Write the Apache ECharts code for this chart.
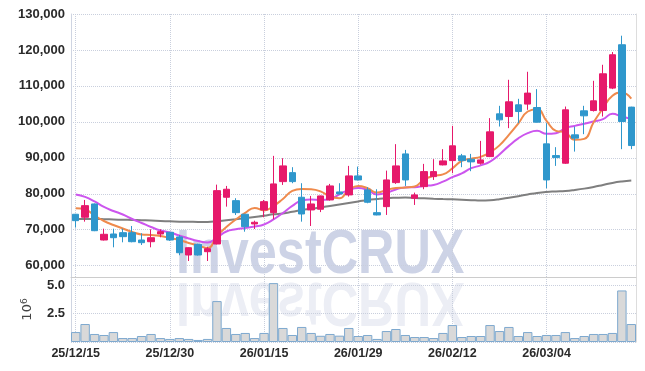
<!DOCTYPE html>
<html><head><meta charset="utf-8">
<script src="https://cdn.jsdelivr.net/npm/echarts@6/dist/echarts.min.js"></script>
<style>html,body{margin:0;padding:0;background:#fff}#c{width:645px;height:371px}</style>
</head><body><div id="c"></div>
<script>
const dates = ['25/12/15','25/12/16','25/12/17','25/12/18','25/12/19','25/12/22','25/12/23','25/12/24','25/12/26','25/12/29',
'25/12/30','26/01/02','26/01/05','26/01/06','26/01/07','26/01/08','26/01/09','26/01/12','26/01/13','26/01/14',
'26/01/15','26/01/16','26/01/19','26/01/20','26/01/21','26/01/22','26/01/23','26/01/26','26/01/27','26/01/28',
'26/01/29','26/01/30','26/02/02','26/02/03','26/02/04','26/02/05','26/02/06','26/02/09','26/02/10','26/02/11',
'26/02/12','26/02/13','26/02/19','26/02/20','26/02/23','26/02/24','26/02/25','26/02/26','26/02/27','26/03/03',
'26/03/04','26/03/05','26/03/06','26/03/09','26/03/10','26/03/11','26/03/12','26/03/13','26/03/16','26/03/17'];

// [open, close, low, high]
const ohlc = [
[74300,72520,70600,74400],[73460,76700,72240,78280],[77170,69730,69600,77300],[67140,68730,67000,70290],[68810,67780,65110,70290],
[69180,68070,66500,70290],[69180,66670,66500,71040],[67140,66390,65750,69010],[66670,67780,65110,70120],[68810,69460,67900,70120],
[69290,67140,66900,69400],[68000,63600,62900,68500],[62970,65000,61300,65100],[65940,62970,62800,66100],[63890,64720,61300,65280],
[66030,80870,65900,82540],[79030,81260,76420,82180],[78090,74750,74100,78760],[74300,70850,69450,74400],[71600,72070,70200,72520],
[75500,77810,73460,78280],[74750,82740,72910,90540],[83380,87750,82460,89900],[85880,83380,82930,87390],[79030,74380,72240,82930],
[75500,77170,71040,79400],[75690,79400,74900,79500],[78280,82180,78090,82740],[80510,79950,79800,82930],[79680,84970,79210,87750],
[84970,83850,83700,87560],[81070,77640,77360,81820],[74750,74110,74000,81260],[76420,83850,74110,86440],[83100,87750,82740,93800],
[91090,83850,82180,92200],[78760,79680,76890,80320],[81990,86160,81260,88310],[84770,86160,83850,89620],[88030,89140,87900,92400],
[89230,93330,85720,98890],[90540,89230,87390,91090],[89620,88870,86280,91090],[88500,89420,88110,94710],[90340,97220,90200,101040],
[102230,100560,98700,104460],[101480,105580,98250,111700],[104740,102870,99640,106410],[104940,108000,103350,113930],[103990,99920,99800,109110],
[93880,83850,81540,99640],[90620,90060,87750,92960],[88500,103350,88300,104260],[96390,95470,91730,98700],[103070,101680,96580,104460],
[103150,105850,102870,111420],[103150,113370,101480,115880],[109390,118670,109110,119420],[121450,100090,92400,123960],[104100,93410,92400,104200]
];

const ma5 = [75970,75640,73970,72430,71320,70350,69370,68680,68540,68260,
67700,67140,66310,65610,64920,68260,70760,72850,74660,76050,
75360,76610,78560,80790,81350,81260,80650,79260,78760,81070,
82180,81540,80320,81070,81620,81760,82040,83990,84970,85390,
87060,89140,89760,90260,91510,93460,96390,99530,102880,103540,
100280,97500,97080,94990,95270,99870,103820,107250,108170,106470];

const ma20 = [79820,79120,77870,76330,75220,74240,72990,71880,70760,69790,
69230,68400,67560,66860,66450,67840,69510,70120,70490,70900,
71460,72850,74660,76610,78140,78420,78280,78560,79820,81070,
81620,81070,79820,80230,81210,81760,81820,82180,82460,83380,
84610,85660,87110,87890,88950,90950,93320,95410,96860,97500,
96660,96860,98250,98890,99450,100090,100760,102230,101480,100840];

const ma60 = [72990,72990,72990,72940,72850,72770,72710,72630,72550,72430,
72350,72240,72210,72160,72160,72350,72660,72940,73210,73550,
73880,74300,74520,74990,75500,75830,76190,76610,77030,77450,
77860,78280,78560,78780,78890,78950,78840,78730,78620,78530,
78450,78340,78230,78120,78200,78480,78900,79340,79790,80230,
80510,80650,80790,81070,81430,81900,82460,83020,83430,83710];

// volume in millions
const volume = [0.88,1.59,0.71,0.62,0.88,0.35,0.35,0.53,0.71,0.35,
0.27,0.35,0.27,0.18,0.27,3.62,1.24,0.71,0.80,0.35,
0.80,5.21,1.24,0.62,1.33,0.80,0.55,0.71,0.56,1.24,
0.53,0.62,0.27,0.97,1.15,0.62,0.44,0.44,0.35,0.80,
1.50,0.44,0.53,0.53,1.50,0.97,1.33,0.53,0.88,0.53,
0.62,0.62,0.88,0.35,0.53,0.71,0.71,0.80,4.56,1.59];

const priceMin = 56850, priceMax = 130000;
const volMax = 5.75, volTicks = 2.5;

const UP = '#e6196b', DOWN = '#2f97cc';
const FONT = '"Liberation Sans", Arial, sans-serif';
const gridLine = {show:true, lineStyle:{color:'#c9cfdd', type:'dotted', width:1}};
const lbl = {color:'#2a2a2a', fontFamily:FONT, fontSize:13, fontWeight:'bold'};

const chart = echarts.init(document.getElementById('c'), null, {renderer:'canvas'});
chart.setOption({
  animation:false,
  backgroundColor:'#fff',
  grid:[
    {left:71, right:9, top:14, height:263},
    {left:71, right:9, top:277, height:65}
  ],
  xAxis:[
    {type:'category', gridIndex:0, data:dates, boundaryGap:true,
     axisLine:{show:true, lineStyle:{color:'#cccccc'}}, axisTick:{show:false}, axisLabel:{show:false},
     splitLine:Object.assign({interval:9, alignWithLabel:true}, gridLine)},
    {type:'category', gridIndex:1, data:dates, boundaryGap:true,
     axisLine:{show:false}, axisTick:{show:false},
     axisLabel:Object.assign({interval:9, margin:5}, lbl, {fontSize:12.5}),
     splitLine:Object.assign({interval:9, alignWithLabel:true}, gridLine)}
  ],
  yAxis:[
    {type:'value', gridIndex:0, min:priceMin, max:priceMax, splitNumber:7, position:'left',
     axisLine:{show:true, lineStyle:{color:'#cfd5e2'}}, axisTick:{show:false},
     axisLabel:Object.assign({showMinLabel:false, margin:6}, lbl),
     splitLine:gridLine},
    {type:'value', gridIndex:0, min:priceMin, max:priceMax, position:'right',
     axisLine:{show:true, lineStyle:{color:'#dddddd'}}, axisTick:{show:false}, axisLabel:{show:false}, splitLine:{show:false}},
    {type:'value', gridIndex:1, min:0, max:volMax, interval:volTicks, position:'left',
     axisLine:{show:true, lineStyle:{color:'#cfd5e2'}}, axisTick:{show:false},
     axisLabel:Object.assign({showMinLabel:false, showMaxLabel:false, margin:6, formatter:v=>v.toFixed(1)}, lbl),
     splitLine:gridLine,
     name:'{a|10}{b|6}', nameLocation:'middle', nameRotate:90, nameGap:36,
     nameTextStyle:{rich:{a:{fontSize:13, color:'#444', fontFamily:'DejaVu Sans'}, b:{fontSize:9, color:'#444', fontFamily:'DejaVu Sans', verticalAlign:'top', padding:[0,0,6,0]}}}},
    {type:'value', gridIndex:1, min:0, max:volMax, position:'right',
     axisLine:{show:true, lineStyle:{color:'#dddddd'}}, axisTick:{show:false}, axisLabel:{show:false}, splitLine:{show:false}}
  ],
  graphic:[
    {type:'text', z:0, x:176, y:224, scaleX:0.8, silent:true,
     style:{text:'InvestCRUX', font:'bold 63px "Liberation Sans"', fill:'#cdd3e6'}},
    {type:'text', z:0, x:176, y:332, scaleX:0.8, scaleY:-1, silent:true,
     style:{text:'InvestCRUX', font:'bold 63px "Liberation Sans"', fill:'#eceef5'}}
  ],
  series:[
    {type:'candlestick', xAxisIndex:0, yAxisIndex:0, data:ohlc, barWidth:7, z:3,
     itemStyle:{color:UP, color0:DOWN, borderColor:UP, borderColor0:DOWN, borderWidth:1}},
    {type:'line', xAxisIndex:0, yAxisIndex:0, data:ma60, showSymbol:false, smooth:true, z:2,
     lineStyle:{color:'#7f7f7f', width:2}},
    {type:'line', xAxisIndex:0, yAxisIndex:0, data:ma20, showSymbol:false, smooth:true, z:2,
     lineStyle:{color:'#cc55ee', width:2}},
    {type:'line', xAxisIndex:0, yAxisIndex:0, data:ma5, showSymbol:false, smooth:true, z:2,
     lineStyle:{color:'#ef8a4c', width:2}},
    {type:'bar', xAxisIndex:1, yAxisIndex:2, data:volume, barCategoryGap:'0%', z:2,
     itemStyle:{color:'#d9d9d9', borderColor:'#7ea9cf', borderWidth:1}}
  ]
});
</script></body></html>
